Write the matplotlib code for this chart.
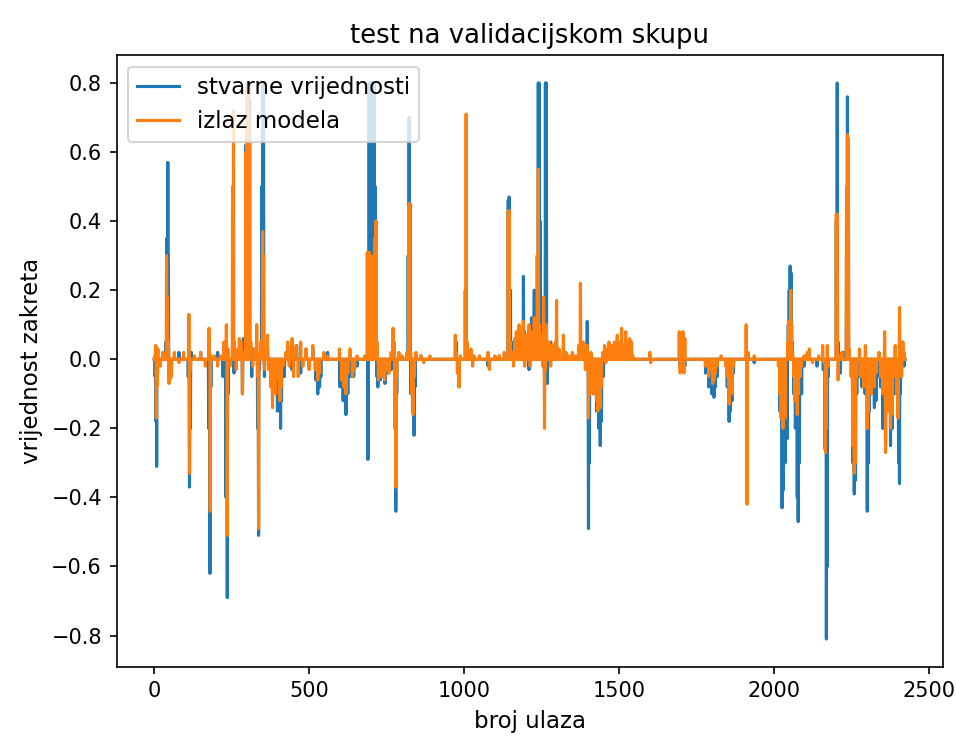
import numpy as np
import matplotlib
matplotlib.use("Agg")
from matplotlib import pyplot as plt

# number of validation samples
n_samples = 2425

# (sample index, value), everything else sits at 0
true_spikes = [
    (3, -0.05), (6, -0.18), (8, -0.31), (11, -0.04),
    (38, 0.05), (41, 0.35), (44, 0.57), (46, 0.3), (50, -0.06),
    (80, 0.02), (110, -0.05), (114, -0.37), (117, -0.2), (120, 0.02),
    (150, 0.02), (176, -0.2), (180, -0.62), (183, -0.08),
    (205, 0.02), (222, -0.05), (228, 0.04), (232, -0.4), (236, -0.69), (239, -0.1),
    (255, 0.05), (258, -0.04), (285, -0.1), (288, 0.06),
    (296, 0.62), (299, 0.8), (302, 0.8), (305, 0.8), (308, 0.75), (311, 0.05),
    (315, -0.05), (320, 0.03), (334, -0.2), (337, -0.51), (340, -0.03),
    (347, 0.5), (350, 0.8), (353, 0.8), (356, -0.05),
    (366, 0.03), (382, -0.12), (390, -0.06), (398, -0.15), (403, -0.08), (408, -0.2),
    (411, -0.12), (420, -0.05), (431, 0.04), (445, -0.03), (460, 0.04), (473, -0.04),
    (490, 0.03), (512, 0.03), (522, -0.06), (528, -0.1), (534, -0.08), (538, -0.05),
    (560, 0.02), (600, -0.08), (610, -0.12), (619, -0.16), (625, -0.1), (635, -0.05),
    (644, -0.05), (655, -0.02),
    (690, -0.29), (694, 0.8), (697, 0.8), (700, 0.8), (703, 0.8), (706, 0.8), (710, 0.8),
    (713, 0.5), (716, 0.4), (719, -0.05),
    (722, -0.08), (730, -0.06), (738, -0.05), (745, -0.07), (755, -0.04), (765, -0.03),
    (774, 0.04), (778, -0.2), (780, -0.44), (783, -0.1),
    (820, 0.3), (823, 0.7), (826, 0.45), (829, -0.1), (834, -0.15), (839, -0.22), (842, -0.08),
    (861, 0.01), (975, 0.05), (984, -0.08), (1023, 0.02), (1078, -0.02), (1114, 0.01),
    (1143, 0.46), (1146, 0.47), (1150, 0.2), (1153, 0.05),
    (1169, 0.04), (1185, 0.06), (1192, 0.24), (1195, 0.08), (1201, 0.05), (1210, -0.03),
    (1218, 0.12), (1227, 0.2), (1230, 0.05),
    (1237, 0.3), (1240, 0.8), (1243, 0.8), (1246, 0.4), (1250, 0.1), (1256, 0.08),
    (1260, -0.04), (1263, 0.8), (1266, 0.8), (1269, -0.07),
    (1280, 0.05), (1299, 0.04), (1321, 0.02), (1376, 0.03),
    (1398, 0.11), (1402, -0.49), (1405, -0.3), (1410, -0.05), (1418, -0.1), (1428, -0.15),
    (1435, -0.2), (1440, -0.25), (1444, -0.18), (1450, -0.05), (1460, 0.02), (1477, 0.03),
    (1500, 0.04), (1509, 0.05), (1525, 0.04), (1541, 0.02),
    (1600, 0.01), (1697, -0.02), (1713, -0.02),
    (1780, -0.04), (1790, -0.08), (1800, -0.1), (1807, -0.11), (1812, -0.08), (1817, -0.05),
    (1850, -0.08), (1856, -0.18), (1860, -0.15), (1865, -0.12), (1870, -0.04),
    (1937, -0.01),
    (2020, -0.15), (2027, -0.43), (2030, -0.38), (2034, -0.2), (2037, -0.3), (2040, -0.18),
    (2043, -0.23), (2047, 0.1), (2050, 0.2), (2053, 0.27), (2056, 0.25), (2060, 0.05),
    (2065, -0.1), (2070, -0.2), (2076, -0.4), (2079, -0.47), (2083, -0.3), (2090, -0.1),
    (2098, -0.02), (2115, 0.01), (2140, -0.02), (2160, -0.03),
    (2166, -0.26), (2170, -0.81), (2173, -0.6), (2176, -0.05),
    (2202, 0.4), (2205, 0.8), (2208, 0.05), (2215, -0.04), (2225, 0.02),
    (2235, 0.3), (2238, 0.76), (2241, 0.6), (2244, 0.02),
    (2255, -0.3), (2260, -0.39), (2264, -0.35), (2268, -0.1), (2277, -0.05), (2285, -0.08),
    (2295, -0.1), (2302, -0.44), (2306, -0.3), (2309, -0.15), (2315, -0.1), (2325, -0.14),
    (2330, -0.12), (2335, -0.05), (2345, -0.08), (2352, -0.2), (2361, -0.24), (2366, -0.12),
    (2377, -0.25), (2383, -0.2), (2390, -0.1), (2396, -0.05), (2403, -0.3), (2406, -0.36),
    (2409, -0.1), (2414, 0.05), (2418, 0.02), (2421, -0.02),
]

model_spikes = [
    (2, 0.01), (5, 0.04), (7, -0.17), (9, -0.08), (12, 0.03), (20, -0.02), (28, 0.02),
    (40, 0.3), (43, 0.18), (46, 0.05), (48, -0.07), (56, -0.05), (65, 0.02), (80, -0.01),
    (95, 0.02), (112, 0.13), (114, -0.33), (117, -0.03), (130, 0.01), (150, 0.02),
    (165, -0.02), (177, 0.09), (181, -0.44), (184, 0.01), (195, 0.01), (205, -0.02),
    (215, 0.01), (225, 0.05), (229, 0.05), (233, 0.1), (236, -0.51), (238, 0.03),
    (245, -0.02), (253, 0.5), (256, 0.72), (259, 0.05), (265, -0.03), (270, 0.03),
    (275, 0.06), (280, 0.05), (285, -0.1), (290, 0.02),
    (296, 0.6), (299, 0.8), (302, 0.8), (305, 0.7), (308, 0.63), (312, 0.05), (318, -0.02),
    (325, 0.03), (331, 0.1), (334, -0.05), (337, -0.49), (340, 0.02), (345, 0.05),
    (350, 0.37), (353, 0.3), (356, -0.03), (360, 0.01),
    (366, 0.07), (370, -0.03), (376, -0.08), (382, -0.14), (386, -0.05), (392, -0.1),
    (397, 0.0), (402, -0.06), (406, -0.12), (410, -0.08), (416, -0.02), (425, 0.02),
    (431, 0.05), (436, -0.02), (445, 0.06), (450, -0.05), (458, 0.04), (465, -0.05),
    (473, 0.05), (480, -0.02), (490, 0.03), (500, -0.03), (512, 0.04), (520, -0.03),
    (528, -0.06), (534, -0.04), (540, 0.0), (548, 0.02), (560, 0.01),
    (598, 0.03), (605, -0.06), (612, -0.08), (619, -0.1), (625, -0.04), (632, 0.03),
    (640, -0.05), (647, -0.03), (655, 0.01), (680, 0.01),
    (688, 0.31), (691, 0.2), (694, 0.31), (697, 0.25), (700, 0.3), (703, 0.2), (706, 0.28),
    (709, 0.3), (712, 0.35), (716, 0.4), (719, 0.05),
    (724, -0.06), (728, -0.03), (733, -0.05), (738, -0.02), (744, -0.06), (750, -0.03),
    (758, -0.04), (765, 0.02), (771, 0.09), (774, 0.05), (777, -0.2), (780, -0.37),
    (783, -0.05), (790, 0.02), (800, 0.01), (815, 0.02),
    (822, 0.45), (825, 0.45), (828, 0.02), (832, -0.1), (836, -0.16), (840, -0.05),
    (845, 0.02), (861, 0.01), (870, -0.01), (890, 0.01),
    (972, 0.07), (975, 0.02), (979, -0.04), (984, -0.08), (988, 0.01), (1004, 0.2),
    (1007, 0.71), (1010, 0.05), (1015, 0.02), (1023, 0.03), (1028, -0.02), (1033, 0.01),
    (1050, 0.01), (1078, 0.02), (1082, -0.03), (1100, 0.01), (1114, 0.01), (1130, 0.02),
    (1143, 0.43), (1146, 0.43), (1150, 0.05), (1155, 0.02), (1160, -0.02), (1165, 0.06),
    (1169, 0.08), (1173, 0.03), (1178, 0.1), (1182, 0.05), (1185, 0.08), (1189, 0.02),
    (1192, 0.11), (1196, -0.02), (1201, 0.07), (1205, 0.02), (1210, 0.1), (1214, -0.02),
    (1218, 0.08), (1222, 0.03), (1227, 0.12), (1232, 0.03),
    (1237, 0.3), (1240, 0.55), (1243, 0.1), (1246, 0.05), (1250, 0.07), (1254, -0.02),
    (1257, 0.18), (1260, -0.2), (1263, -0.03), (1266, 0.1), (1270, 0.03), (1275, 0.05),
    (1280, -0.02), (1285, 0.04), (1290, 0.01), (1295, 0.05), (1299, 0.17), (1303, 0.0),
    (1308, 0.03), (1315, 0.01), (1321, 0.07), (1325, 0.01), (1330, 0.02), (1340, 0.01),
    (1350, 0.02), (1360, 0.01), (1370, 0.04), (1376, 0.22), (1380, 0.02), (1386, 0.05),
    (1392, -0.03), (1398, 0.04), (1402, -0.17), (1406, -0.1), (1410, 0.02), (1415, -0.05),
    (1418, -0.1), (1422, -0.05), (1428, -0.12), (1432, -0.15), (1436, -0.1), (1440, -0.14),
    (1444, -0.08), (1448, 0.02), (1454, 0.04), (1458, -0.01), (1463, 0.03), (1468, 0.05),
    (1472, 0.01), (1477, 0.04), (1481, 0.0), (1486, 0.05), (1490, 0.03), (1495, 0.07),
    (1500, 0.05), (1505, 0.02), (1509, 0.09), (1513, 0.04), (1518, 0.02), (1522, 0.08),
    (1525, 0.05), (1530, 0.03), (1535, 0.06), (1541, 0.05), (1545, 0.01),
    (1600, 0.02), (1603, -0.01),
    (1695, 0.08), (1698, -0.04), (1701, 0.07), (1704, -0.03), (1707, 0.08), (1710, -0.04),
    (1713, 0.06),
    (1780, -0.02), (1790, -0.05), (1797, -0.03), (1803, -0.07), (1807, -0.06), (1812, -0.04),
    (1817, -0.02), (1830, 0.01), (1845, -0.02), (1850, -0.05), (1856, -0.13), (1860, -0.08),
    (1865, -0.1), (1870, -0.02),
    (1911, 0.1), (1914, -0.42), (1917, 0.02), (1937, 0.01),
    (1995, 0.0), (2015, -0.02), (2020, -0.1), (2024, -0.17), (2027, -0.05), (2030, -0.2),
    (2034, -0.1), (2037, -0.17), (2041, 0.0), (2045, 0.05), (2049, 0.11), (2052, 0.1),
    (2055, 0.2), (2058, 0.1), (2061, 0.02), (2065, -0.05), (2068, -0.12), (2072, -0.08),
    (2076, -0.16), (2080, -0.1), (2085, -0.05), (2090, -0.02), (2098, 0.01), (2108, 0.02),
    (2115, 0.03), (2125, -0.01), (2145, 0.01), (2158, 0.04), (2163, -0.01),
    (2167, -0.27), (2170, -0.2), (2173, 0.04), (2176, -0.02),
    (2202, 0.42), (2205, 0.42), (2208, -0.06), (2212, 0.01), (2220, 0.02),
    (2235, 0.5), (2238, 0.65), (2241, 0.64), (2244, 0.03),
    (2250, -0.05), (2255, -0.25), (2260, -0.33), (2264, -0.3), (2268, -0.05), (2277, 0.03),
    (2282, -0.05), (2290, -0.08), (2296, 0.04), (2302, -0.2), (2306, -0.15), (2309, -0.05),
    (2315, -0.1), (2320, -0.03), (2325, -0.08), (2330, -0.04), (2340, 0.02), (2345, -0.05),
    (2352, -0.1), (2358, 0.08), (2361, -0.27), (2364, -0.1), (2370, -0.15), (2377, -0.2),
    (2383, -0.16), (2388, -0.05), (2392, 0.04), (2397, -0.1), (2401, -0.17), (2406, 0.15),
    (2409, 0.05), (2413, -0.05), (2417, 0.05), (2421, 0.02), (2424, 0.0),
]


def build_series(spikes):
    series = np.zeros(n_samples)
    for i, v in spikes:
        series[i] = v
    return series


y_true = build_series(true_spikes)
y_model = build_series(model_spikes)

fig = plt.figure(figsize=(956 / 150, 736 / 150), dpi=150)
ax = fig.add_subplot(111)
fig.subplots_adjust(left=0.122, right=0.986, top=0.925, bottom=0.094)

ax.plot(y_true, label="stvarne vrijednosti")
ax.plot(y_model, label="izlaz modela")
ax.set_title("test na validacijskom skupu", fontsize=12.4)
ax.set_xlabel("broj ulaza", fontsize=11)
ax.set_ylabel("vrijednost zakreta", fontsize=11)
ax.legend(loc="upper left", fontsize=11, handlelength=1.8)

fig.savefig("out.png", dpi=150)
